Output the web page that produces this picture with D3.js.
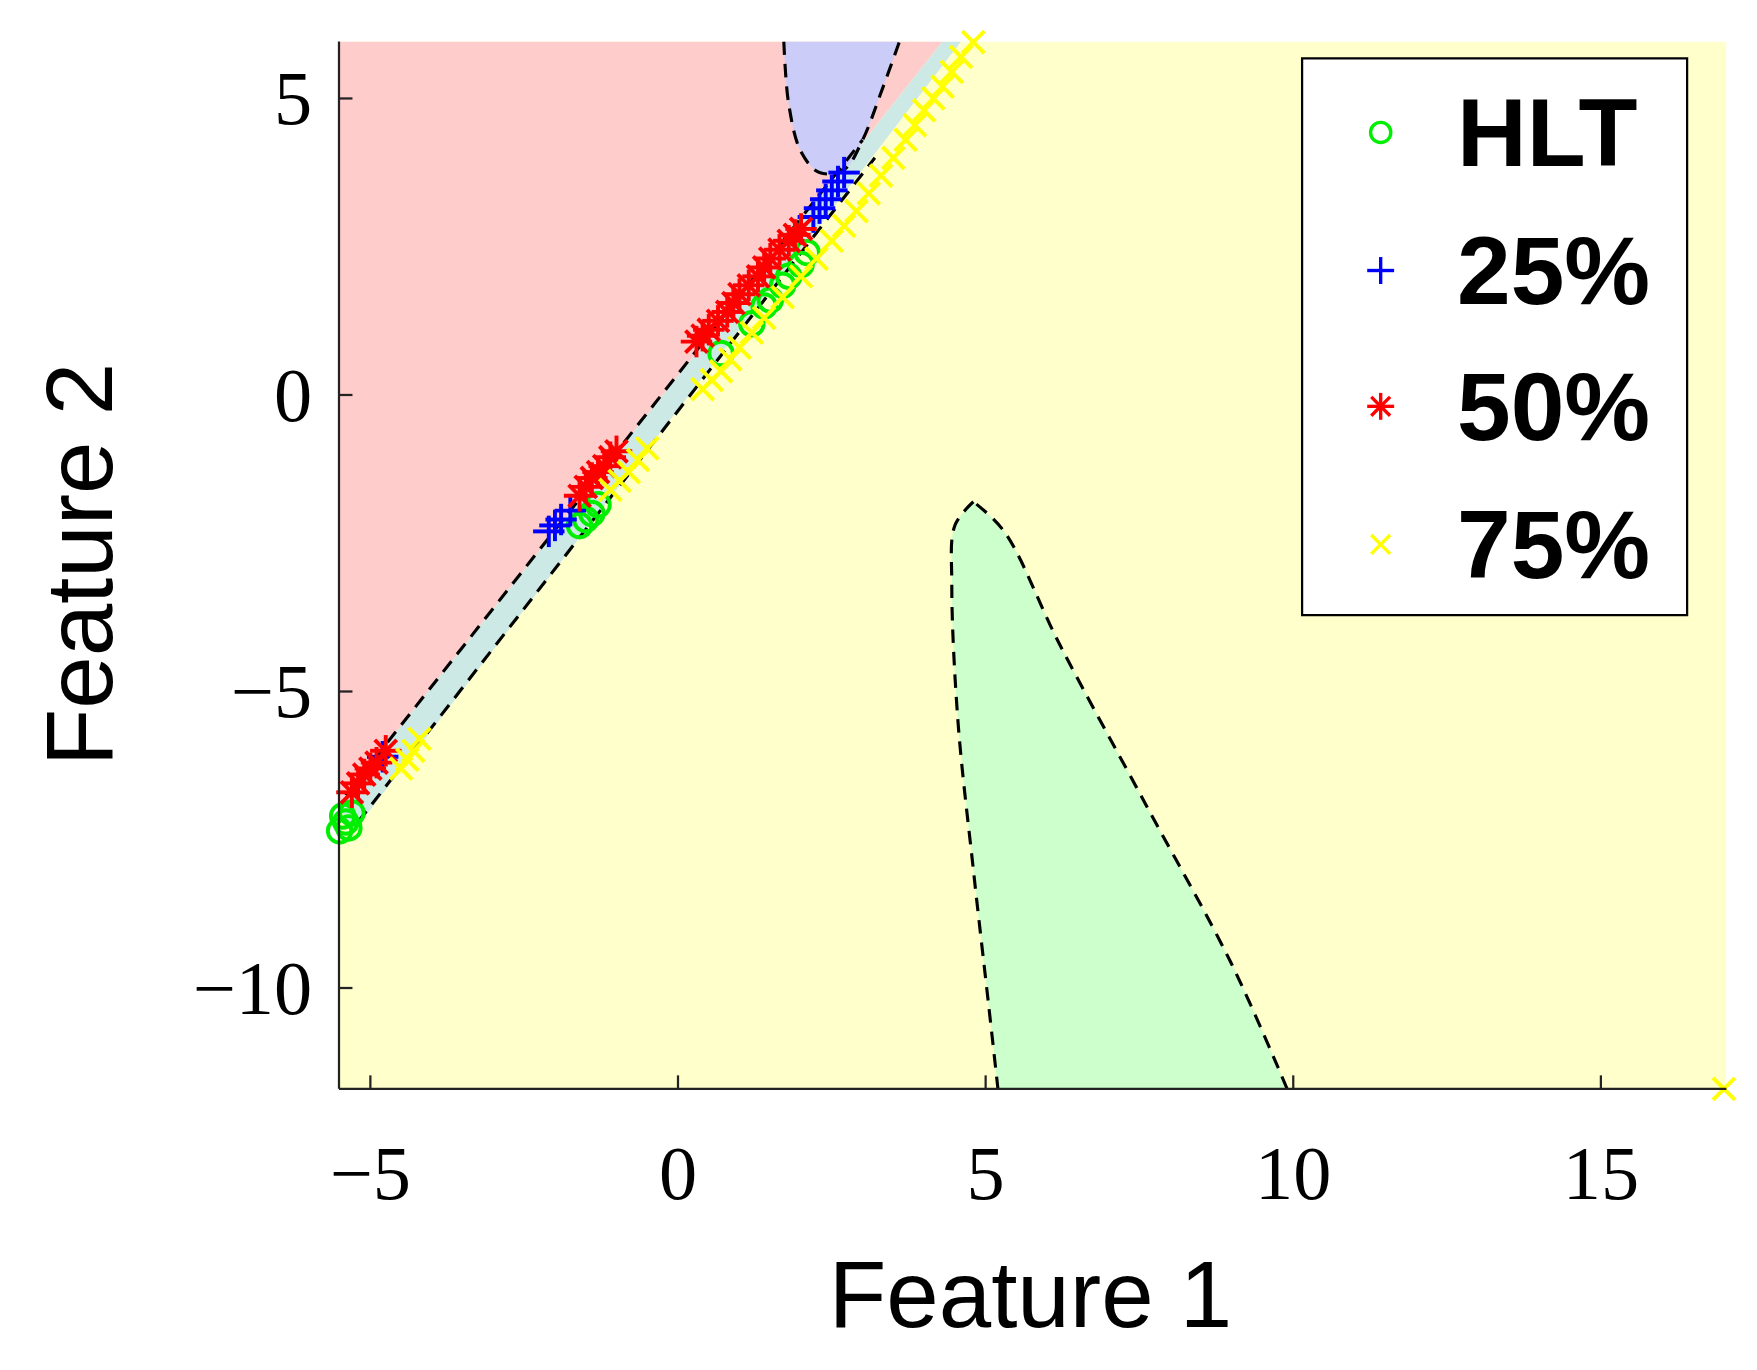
<!DOCTYPE html>
<html><head><meta charset="utf-8">
<script src="https://cdn.jsdelivr.net/npm/d3@7"></script>
<style>body{margin:0;background:#fff}</style></head>
<body><svg id="c" width="1757" height="1370"></svg>
<script>
const xTicks=[-5,0,5,10,15], yTicks=[-10,-5,0,5];
const redRegion=[[-5.51,5.96],[-5.51,-6.9],[4.3,5.96]];
const bandRegion=[[-5.51,-6.9],[4.3,5.96],[4.6,5.96],[-5.3,-7.4]];
const upperLine=[[-5.4,-6.75],[3.0,4.3]];
const lowerLine=[[-5.2,-7.2],[3.2,4.0]];
const blueRegion=[[1.72,5.96],[1.8,4.9],[2.0,4.1],[2.3,3.75],[2.7,3.8],[3.0,4.3],[3.3,5.1],[3.6,5.96]];
const greenRegion=[[4.8,-1.8],[4.5,-2.2],[4.45,-3.2],[4.55,-5.5],[4.8,-8.0],[5.05,-10.3],[5.2,-11.7],[9.9,-11.7],[9.0,-9.6],[7.6,-6.9],[6.2,-4.2],[5.3,-2.3]];
const hlt=[[-5.5,-7.35],[-5.4,-7.2],[-5.3,-7.05],[-5.45,-7.1],[-5.35,-7.3],[-1.6,-2.2],[-1.5,-2.1],[-1.4,-2.0],[-1.3,-1.85],[1.2,1.2],[1.4,1.5],[1.5,1.6],[1.7,1.85],[1.8,2.0],[2.0,2.2],[2.1,2.4],[0.7,0.7]];
const p25=[[-2.1,-2.3],[-2.0,-2.2],[-1.9,-2.1],[-1.75,-1.95],[2.2,3.0],[2.3,3.15],[2.4,3.3],[2.5,3.45],[2.6,3.6],[2.7,3.75],[-4.8,-6.1]];
const p50=[[-5.3,-6.7],[-5.2,-6.55],[-5.1,-6.4],[-5.0,-6.3],[-4.9,-6.2],[-4.75,-6.0],[-1.6,-1.7],[-1.5,-1.55],[-1.4,-1.4],[-1.3,-1.3],[-1.2,-1.2],[-1.1,-1.05],[-1.0,-0.95],[0.3,0.9],[0.4,1.0],[0.5,1.1],[0.65,1.25],[0.8,1.4],[0.9,1.55],[1.0,1.7],[1.15,1.85],[1.3,2.0],[1.4,2.15],[1.5,2.3],[1.65,2.45],[1.8,2.6],[1.9,2.7],[2.0,2.8]];
const p75=[[-4.5,-6.3],[-4.4,-6.15],[-4.3,-6.0],[-4.2,-5.8],[-1.1,-1.6],[-0.95,-1.45],[-0.8,-1.3],[-0.65,-1.1],[-0.5,-0.9],[0.4,0.1],[0.55,0.25],[0.7,0.4],[0.85,0.6],[1.0,0.8],[1.2,1.05],[1.4,1.3],[1.7,1.65],[2.0,2.0],[2.25,2.3],[2.5,2.6],[2.7,2.85],[2.9,3.1],[3.1,3.4],[3.3,3.7],[3.5,4.0],[3.7,4.3],[3.85,4.55],[4.0,4.8],[4.15,5.0],[4.3,5.2],[4.45,5.45],[4.6,5.7],[4.8,5.95],[17.0,-11.7]];
const legendLabels=["HLT","25%","50%","75%"];

const svg=d3.select("#c");
const root=svg.append("g").attr("transform","scale(1.1225)");
const x=d3.scaleLinear().domain([-5.51,17.04]).range([302,1538]);
const y=d3.scaleLinear().domain([-11.7,5.96]).range([970,37]);
const line=d3.line().x(d=>x(d[0])).y(d=>y(d[1]));
const curve=d3.line().x(d=>x(d[0])).y(d=>y(d[1])).curve(d3.curveCatmullRom);
const curveC=d3.line().x(d=>x(d[0])).y(d=>y(d[1])).curve(d3.curveCatmullRomClosed);
svg.append("defs").append("clipPath").attr("id","clip").append("rect")
 .attr("x",302).attr("y",37).attr("width",1236).attr("height",933);
const g=root.append("g").attr("clip-path","url(#clip)");
g.append("rect").attr("x",302).attr("y",37).attr("width",1236).attr("height",933).attr("fill","#ffffcc");
g.append("path").attr("d",line(redRegion)+"Z").attr("fill","#ffcccc");
g.append("path").attr("d",line(bandRegion)+"Z").attr("fill","#cce9e6");
g.append("path").attr("d",curve(blueRegion)+"Z").attr("fill","#ccccf8");
g.append("path").attr("d",curve(greenRegion.slice(0,7))+"L"+curve(greenRegion.slice(7).concat([greenRegion[0]])).slice(1)+"Z").attr("fill","#ccffcc");
const dash=s=>s.attr("fill","none").attr("stroke","#000").attr("stroke-width",2.8).attr("stroke-dasharray","12,8");
dash(g.append("path").attr("d",curve(blueRegion)));
dash(g.append("path").attr("d",curve(greenRegion.slice(0,7))));
dash(g.append("path").attr("d",curve(greenRegion.slice(7).concat([greenRegion[0]]))));
dash(g.append("path").attr("d",line(upperLine)));
dash(g.append("path").attr("d",line(lowerLine)));

const sz=14;
function mark(sel,type,col,s,w){
 s=s||sz; w=w||3.5;
 if(type==="o") sel.append("circle").attr("r",s*0.75).attr("fill","none").attr("stroke",col).attr("stroke-width",w);
 else {
  const segs=type==="+"?[[0,-1,0,1],[-1,0,1,0]]:type==="x"?[[-.7,-.7,.7,.7],[-.7,.7,.7,-.7]]:
   [[0,-1,0,1],[-1,0,1,0],[-.7,-.7,.7,.7],[-.7,.7,.7,-.7]];
  segs.forEach(q=>sel.append("line").attr("x1",q[0]*s).attr("y1",q[1]*s).attr("x2",q[2]*s).attr("y2",q[3]*s)
   .attr("stroke",col).attr("stroke-width",w));
 }
}
const series=[[hlt,"o","#00ee00"],[p25,"+","#0000ff"],[p50,"*","#ff0000"],[p75,"x","#ffff00"]];
series.forEach(([pts,t,c])=>pts.forEach(p=>{
 const m=root.append("g").attr("transform",`translate(${x(p[0])},${y(p[1])})`);mark(m,t,c);
}));

root.append("line").attr("x1",302).attr("x2",302).attr("y1",37).attr("y2",970).attr("stroke","#222").attr("stroke-width",2);
root.append("line").attr("x1",302).attr("x2",1538).attr("y1",970).attr("y2",970).attr("stroke","#222").attr("stroke-width",2);
const fmt=v=>v<0?"\u2212"+(-v):""+v;
xTicks.forEach(v=>{
 root.append("line").attr("x1",x(v)).attr("x2",x(v)).attr("y1",970).attr("y2",958).attr("stroke","#222").attr("stroke-width",2);
 root.append("text").attr("x",x(v)).attr("y",1068).attr("text-anchor","middle").attr("font-family","Liberation Serif").attr("font-size",68).text(fmt(v));
});
yTicks.forEach(v=>{
 root.append("line").attr("x1",302).attr("x2",314).attr("y1",y(v)).attr("y2",y(v)).attr("stroke","#222").attr("stroke-width",2);
 root.append("text").attr("x",278).attr("y",y(v)+23).attr("text-anchor","end").attr("font-family","Liberation Serif").attr("font-size",68).text(fmt(v));
});
root.append("text").attr("x",918).attr("y",1182).attr("text-anchor","middle").attr("font-family","Liberation Sans").attr("font-size",84).text("Feature 1");
root.append("text").attr("transform","translate(100,503) rotate(-90)").attr("text-anchor","middle").attr("font-family","Liberation Sans").attr("font-size",84).text("Feature 2");

root.append("rect").attr("x",1160).attr("y",52).attr("width",343).attr("height",496).attr("fill","#fff").attr("stroke","#000").attr("stroke-width",2);
const ly=[118,241,362,485];
legendLabels.forEach((l,i)=>{
 const m=root.append("g").attr("transform",`translate(1230,${ly[i]})`);mark(m,series[i][1],series[i][2],12,3);
 root.append("text").attr("x",1298).attr("y",ly[i]+30).attr("font-family","Liberation Sans").attr("font-weight","bold").attr("font-size",86).text(l);
});
</script></body></html>
